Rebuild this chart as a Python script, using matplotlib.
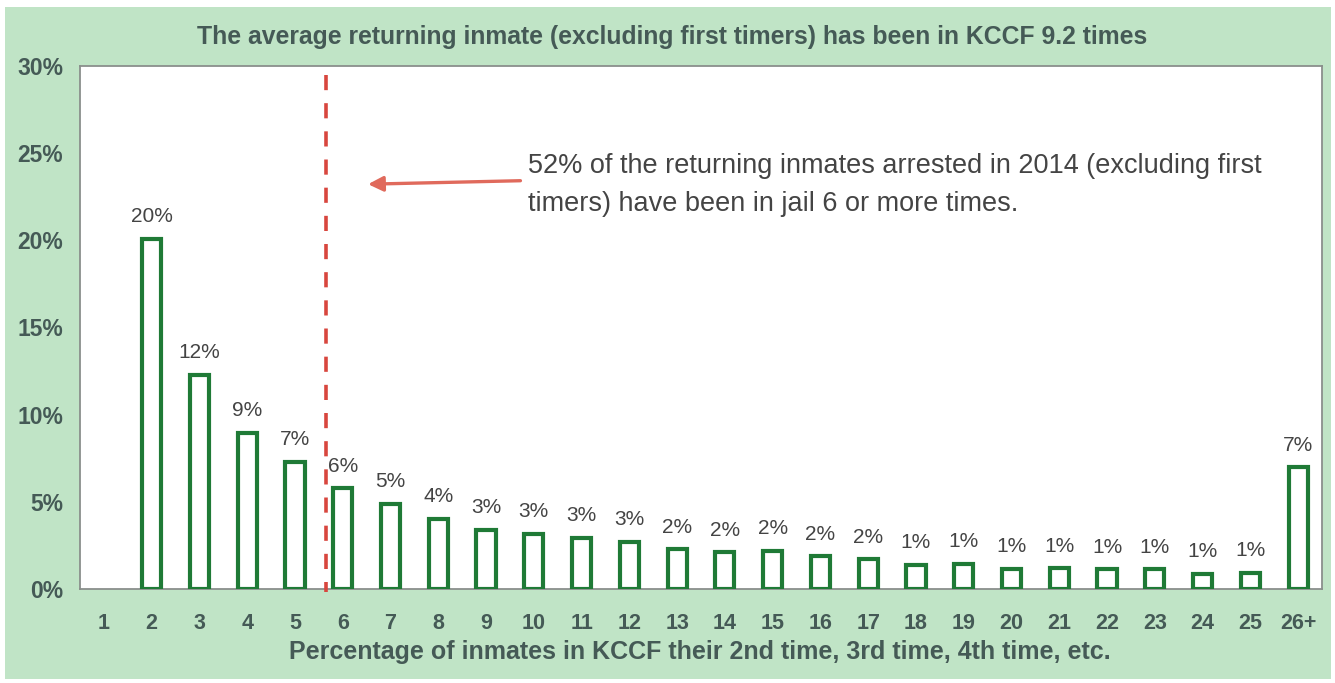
import matplotlib
matplotlib.use("Agg")
import matplotlib.pyplot as plt
from matplotlib.patches import Rectangle

# Number of stays in KCCF and share of returning inmates (percent)
categories = ["1", "2", "3", "4", "5", "6", "7", "8", "9", "10", "11", "12", "13",
              "14", "15", "16", "17", "18", "19", "20", "21", "22", "23", "24", "25", "26+"]
shares = [0.0, 20.1, 12.3, 8.95, 7.29, 5.79, 4.88, 4.02, 3.40, 3.17, 2.93, 2.70, 2.28,
          2.12, 2.18, 1.89, 1.70, 1.38, 1.45, 1.16, 1.20, 1.13, 1.13, 0.88, 0.92, 6.98]
y_ticks = [0, 5, 10, 15, 20, 25, 30]
y_tick_labels = ["0%", "5%", "10%", "15%", "20%", "25%", "30%"]

title = "The average returning inmate (excluding first timers) has been in KCCF 9.2 times"
x_label = "Percentage of inmates in KCCF their 2nd time, 3rd time, 4th time, etc."
note = ("52% of the returning inmates arrested in 2014 (excluding first\n"
        "timers) have been in jail 6 or more times.")

FONT = ["Liberation Sans", "DejaVu Sans"]
plt.rcParams["font.family"] = FONT

panel_green = "#c0e4c6"
bar_green = "#1f7a36"
axis_text = "#455a56"
label_gray = "#444444"

fig = plt.figure(figsize=(13.35, 6.83), dpi=100)
fig.patch.set_facecolor("white")
fig.patches.append(Rectangle((5 / 1335, 4 / 683), 1326 / 1335, 672 / 683,
                             transform=fig.transFigure, facecolor=panel_green,
                             edgecolor="none", zorder=0))

ax = fig.add_axes([80 / 1335, 1 - 589 / 683, 1242 / 1335, 523 / 683])
ax.set_zorder(2)
ax.set_facecolor("white")

x = list(range(len(categories)))
# categories with no inmates get no bar outline
drawn = [(xi, v) for xi, v in zip(x, shares) if v > 0]
ax.bar([d[0] for d in drawn], [d[1] for d in drawn], width=0.40,
       facecolor="white", edgecolor=bar_green, linewidth=3.0, zorder=3)

for xi, v in drawn:
    ax.annotate(f"{v:.0f}%", (xi, v), xytext=(0, 9), textcoords="offset points",
                ha="center", va="bottom", fontsize=15, color=label_gray)

ax.set_xlim(-0.5, len(categories) - 0.5)
ax.set_ylim(0, 30)
ax.set_xticks(x)
ax.set_xticklabels(categories)
ax.set_yticks(y_ticks)
ax.set_yticklabels(y_tick_labels)
ax.tick_params(axis="x", length=0, labelsize=15.5, labelcolor=axis_text, pad=17)
ax.tick_params(axis="y", length=0, labelsize=16.5, labelcolor=axis_text, pad=12)
for lbl in ax.get_xticklabels() + ax.get_yticklabels():
    lbl.set_fontweight("bold")
for s in ax.spines.values():
    s.set_color("#8a8f8c")
    s.set_linewidth(1.3)

# Threshold between 5 and 6 stays
ax.plot([4.65, 4.65], [29.5, -0.2], color="#d8463e", linewidth=2.6,
        linestyle=(0, (4.2, 3.6)), clip_on=False, zorder=4)

ax.annotate("", xy=(5.53, 23.22), xytext=(8.72, 23.42),
            arrowprops=dict(arrowstyle="-|>,head_length=0.9,head_width=0.45",
                            color="#e06a5c", lw=2.4, shrinkA=0, shrinkB=0))
ax.text(8.87, 23.2, note, ha="left", va="center", fontsize=19.5, color=label_gray,
        linespacing=1.6)

fig.text(0.5035, 1 - 37 / 683, title, ha="center", va="center", fontsize=17.8,
         fontweight="bold", color=axis_text)
fig.text(0.5245, 1 - 652 / 683, x_label, ha="center", va="center", fontsize=18,
         fontweight="bold", color=axis_text)

fig.savefig("out.png", dpi=100, facecolor=fig.get_facecolor())
